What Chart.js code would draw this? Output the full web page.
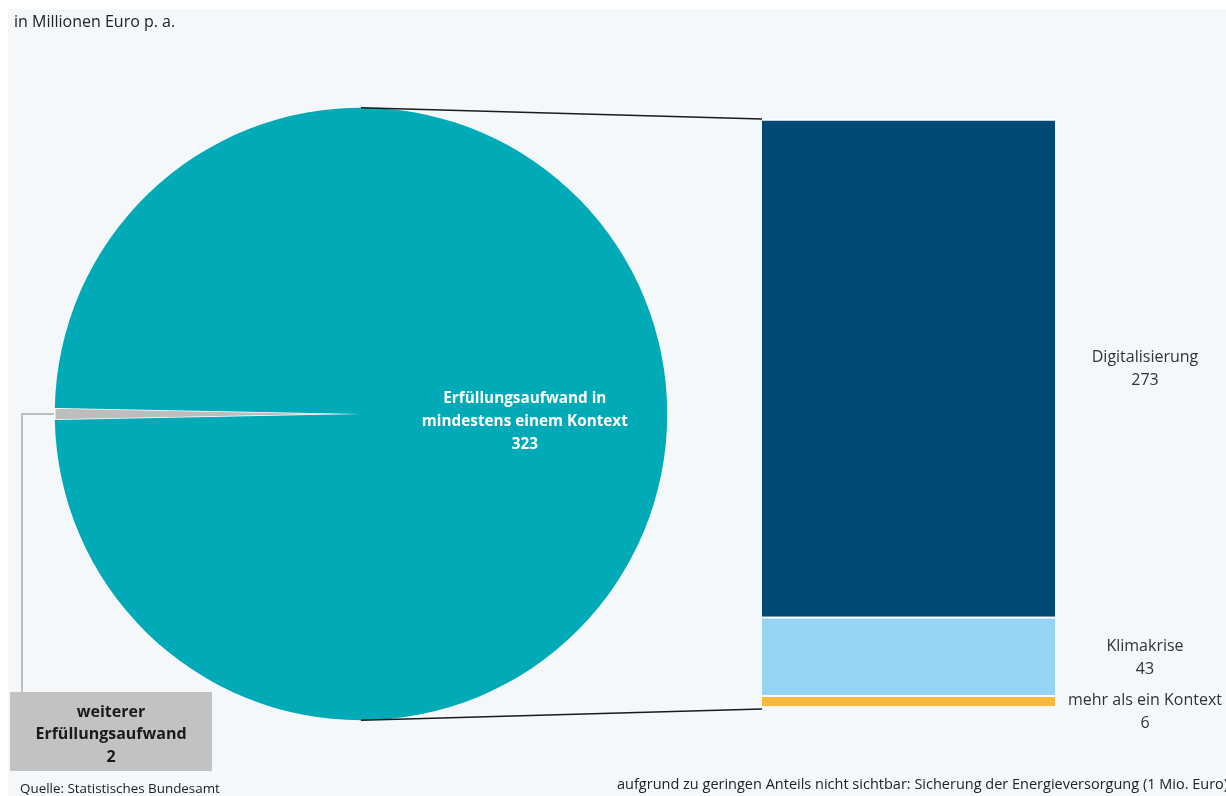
<!DOCTYPE html>
<html lang="de">
<head>
<meta charset="utf-8">
<script src="https://cdn.jsdelivr.net/npm/chart.js@4.4.1/dist/chart.umd.min.js"></script>
<style>
  html, body { margin: 0; padding: 0; background: #fff; }
  body { width: 1226px; height: 796px; position: relative; overflow: hidden; }
  #bg { position: absolute; left: 8px; top: 9px; right: 0; bottom: 0; background: #f4f8fa; }
  #barWrap { position: absolute; left: 762px; top: 119px; width: 464px; height: 625px; z-index: 1; }
  #pieWrap { position: absolute; left: 0; top: 0; width: 1226px; height: 796px; z-index: 2; pointer-events: none; }
</style>
</head>
<body>
<div id="bg"></div>
<div id="barWrap"><canvas id="barChart"></canvas></div>
<div id="pieWrap"><canvas id="pieChart"></canvas></div>

<script>
// ── Data ───────────────────────────────────────────────
const pieLabels = ['weiterer Erfüllungsaufwand', 'Erfüllungsaufwand in mindestens einem Kontext'];
const pieValues = [2, 323];
const pieColors = ['#bdbdbd', '#00aab7'];

// stacked bar, bottom to top
const barLabels = ['Sicherung der Energieversorgung', 'mehr als ein Kontext', 'Klimakrise', 'Digitalisierung'];
const barValues = [1, 6, 43, 273];
const barColors = ['rgba(0,0,0,0)', '#f7ba3e', '#95d5f3', '#004a75'];
const barShowLabel = [false, true, true, true];

const FONT = "'Open Sans', sans-serif";
const barTotal = barValues.reduce((a, b) => a + b, 0);

// ── Bar labels plugin ─────────────────────────────────
const barLabelPlugin = {
  id: 'barLabels',
  afterDatasetsDraw(chart) {
    const ctx = chart.ctx;
    const x = chart.chartArea.right + 90;
    ctx.save();
    ctx.fillStyle = '#333';
    ctx.font = `16px ${FONT}`;
    ctx.textAlign = 'center';
    ctx.textBaseline = 'middle';
    chart.data.datasets.forEach((ds, i) => {
      if (!barShowLabel[i]) return;
      const el = chart.getDatasetMeta(i).data[0];
      let cy = (el.y + el.base) / 2;
      if (el.base - el.y < 40) cy += 10;
      ctx.fillText(ds.label, x, cy - 10);
      ctx.fillText(String(ds.data[0]), x, cy + 13);
    });
    ctx.restore();
  }
};

const barChart = new Chart(document.getElementById('barChart'), {
  type: 'bar',
  data: {
    labels: [''],
    datasets: barLabels.map((l, i) => ({
      label: l,
      data: [barValues[i]],
      backgroundColor: barColors[i],
      borderColor: '#ffffff',
      borderWidth: i === 0 ? 0 : { top: 2 },
      borderSkipped: false,
      categoryPercentage: 1,
      barPercentage: 1,
    })),
  },
  options: {
    responsive: true,
    maintainAspectRatio: false,
    animation: false,
    layout: { padding: { left: 0, right: 171, top: 0, bottom: 36 } },
    plugins: { legend: { display: false }, tooltip: { enabled: false } },
    scales: {
      x: { stacked: true, display: false },
      y: { stacked: true, display: false, min: 0, max: barTotal },
    },
  },
  plugins: [barLabelPlugin],
});

// ── Pie extras: title, labels, connectors, footer ─────
const pieExtrasPlugin = {
  id: 'pieExtras',
  beforeDatasetsDraw(chart) {
    const ctx = chart.ctx;
    const arc = chart.getDatasetMeta(0).data[0];
    ctx.save();
    // grey leader line to the small slice
    ctx.strokeStyle = '#bdbdbd';
    ctx.lineWidth = 2;
    ctx.beginPath();
    ctx.moveTo(arc.x - arc.outerRadius + 2, arc.y);
    ctx.lineTo(22, arc.y);
    ctx.lineTo(22, 692);
    ctx.stroke();
    ctx.restore();
  },
  afterDatasetsDraw(chart) {
    const ctx = chart.ctx;
    const arcBig = chart.getDatasetMeta(0).data[1];
    const cx = arcBig.x, cy = arcBig.y, r = arcBig.outerRadius;
    ctx.save();

    // title
    ctx.fillStyle = '#222';
    ctx.font = `16px ${FONT}`;
    ctx.textAlign = 'left';
    ctx.textBaseline = 'middle';
    ctx.fillText('in Millionen Euro p. a.', 14, 22);

    // label inside the big slice
    ctx.fillStyle = '#fff';
    ctx.font = `bold 15.3px ${FONT}`;
    ctx.textAlign = 'center';
    const lx = cx + r * 0.535;
    ctx.fillText('Erfüllungsaufwand in', lx, cy - 15);
    ctx.fillText('mindestens einem Kontext', lx, cy + 8);
    ctx.fillText(String(pieValues[1]), lx, cy + 31);

    // connector lines to the bar
    const metas = barLabels.map((_, i) => barChart.getDatasetMeta(i).data[0]);
    const top = metas[metas.length - 1];
    const bottom = metas[0];
    const off = barChart.canvas.getBoundingClientRect();
    const bx = off.left + top.x - top.width / 2;
    ctx.strokeStyle = '#1a1a1a';
    ctx.lineWidth = 1.5;
    ctx.beginPath();
    ctx.moveTo(cx, cy - r);
    ctx.lineTo(bx, off.top + top.y);
    ctx.moveTo(cx, cy + r);
    ctx.lineTo(bx, off.top + bottom.base + 1);
    ctx.stroke();

    // grey box for the small slice
    ctx.fillStyle = '#c2c2c2';
    ctx.fillRect(10, 692, 202, 79);
    ctx.fillStyle = '#1a1a1a';
    ctx.font = `bold 16px ${FONT}`;
    ctx.fillText('weiterer', 111, 712);
    ctx.fillText('Erfüllungsaufwand', 111, 734);
    ctx.fillText(String(pieValues[0]), 111, 757);

    // footer
    ctx.fillStyle = '#222';
    ctx.font = `13.4px ${FONT}`;
    ctx.textAlign = 'left';
    ctx.fillText('Quelle: Statistisches Bundesamt', 20, 789);
    ctx.font = `14.5px ${FONT}`;
    ctx.fillText('aufgrund zu geringen Anteils nicht sichtbar: Sicherung der Energieversorgung (1 Mio. Euro)', 617, 785);
    ctx.restore();
  }
};

const pieChart = new Chart(document.getElementById('pieChart'), {
  type: 'pie',
  data: {
    labels: pieLabels,
    datasets: [{
      data: pieValues,
      backgroundColor: pieColors,
      borderColor: '#ffffff',
      borderWidth: [1.5, 0],
    }],
  },
  options: {
    responsive: true,
    maintainAspectRatio: false,
    animation: false,
    rotation: 270 - (pieValues[0] / (pieValues[0] + pieValues[1])) * 180,
    layout: { padding: { left: 54, top: 107, right: 558, bottom: 75 } },
    plugins: { legend: { display: false }, tooltip: { enabled: false } },
  },
  plugins: [pieExtrasPlugin],
});
</script>
</body>
</html>
